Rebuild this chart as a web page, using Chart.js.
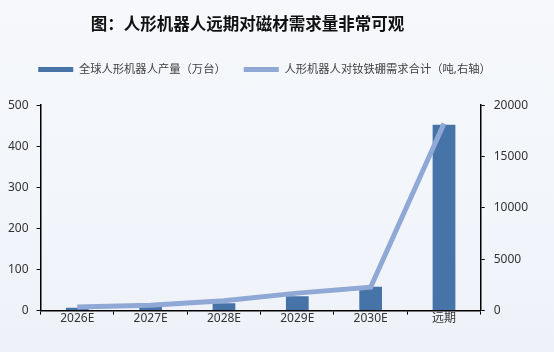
<!DOCTYPE html>
<html>
<head>
<meta charset="utf-8">
<script src="https://cdn.jsdelivr.net/npm/chart.js@4/dist/chart.umd.min.js"></script>
<style>
  html, body { margin: 0; padding: 0; }
  body { width: 554px; height: 352px; background: linear-gradient(180deg, #f6f8fb 0%, #f2f5fa 60%, #eef2f8 100%); }
  #wrap { position: relative; width: 554px; height: 352px; }
</style>
</head>
<body>
<div id="wrap"><canvas id="myChart"></canvas></div>
<script>
// data
const categories = ["2026E", "2027E", "2028E", "2029E", "2030E", "远期"];
const robotOutput = [7, 9, 18, 35, 58, 452];          // 万台, left axis
const ndfebDemand = [340, 520, 950, 1700, 2280, 18200]; // 吨, right axis
const leftTicks = [0, 100, 200, 300, 400, 500];
const rightTicks = [0, 5000, 10000, 15000, 20000];

const FONT = "'Noto Sans', 'Noto Sans CJK SC', sans-serif";
const barColor = "#4674a8";
const lineColor = "#8fa8d5";

// nudge title and legend like in the original layout, and leave room under the legend
const shiftHeader = {
  id: "shiftHeader",
  beforeLayout(chart) {
    const lg = chart.legend;
    if (lg && !lg._extraFit) {
      const fit = lg.fit;
      lg.fit = function () { fit.call(this); this.height += 20; };
      lg._extraFit = true;
    }
  },
  afterLayout(chart) {
    if (chart.titleBlock) { chart.titleBlock.left -= 21; chart.titleBlock.right -= 21; }
    if (chart.legend) { chart.legend.left -= 4; chart.legend.right -= 4; }
  }
};

const ctx = document.getElementById("myChart").getContext("2d");
new Chart(ctx, {
  type: "bar",
  data: {
    labels: categories,
    datasets: [
      {
        type: "line",
        label: "人形机器人对钕铁硼需求合计（吨,右轴）",
        data: ndfebDemand,
        yAxisID: "y1",
        borderColor: lineColor,
        backgroundColor: lineColor,
        borderWidth: 5,
        pointRadius: 0,
        tension: 0,
        order: 0
      },
      {
        label: "全球人形机器人产量（万台）",
        data: robotOutput,
        yAxisID: "y",
        backgroundColor: barColor,
        categoryPercentage: 1,
        barPercentage: 0.31,
        order: 1
      }
    ]
  },
  options: {
    responsive: true,
    maintainAspectRatio: false,
    animation: false,
    layout: { padding: { left: 0, right: 17, top: 15, bottom: 29 } },
    plugins: {
      title: {
        display: true,
        text: "图：人形机器人远期对磁材需求量非常可观",
        color: "#111",
        font: { family: FONT, size: 16.5, weight: "bold" },
        padding: { top: 0, bottom: 11 }
      },
      legend: {
        display: true,
        labels: {
          color: "#404040",
          font: { family: FONT, size: 11.3 },
          boxWidth: 35,
          boxHeight: 5,
          padding: 18,
          generateLabels(chart) {
            // bar first, then line, with flat swatches
            return [1, 0].map(i => {
              const ds = chart.data.datasets[i];
              return {
                text: ds.label,
                fillStyle: i === 1 ? barColor : lineColor,
                strokeStyle: i === 1 ? barColor : lineColor,
                lineWidth: 0,
                datasetIndex: i,
                fontColor: "#404040"
              };
            });
          }
        }
      },
      tooltip: { enabled: false }
    },
    scales: {
      x: {
        grid: { display: true, drawOnChartArea: false, drawTicks: true, tickLength: 4, color: "#000", offset: true },
        border: { display: true, color: "#000", width: 1.5 },
        ticks: { color: "#333", font: { family: FONT, size: 12 }, padding: -3 }
      },
      y: {
        position: "left",
        min: 0,
        max: 500,
        afterBuildTicks(axis) { axis.ticks = leftTicks.map(v => ({ value: v })); },
        grid: { display: true, drawOnChartArea: false, drawTicks: true, tickLength: 4, color: "#000" },
        border: { display: true, color: "#000", width: 1.5 },
        ticks: { color: "#333", font: { family: FONT, size: 12 }, padding: 8 }
      },
      y1: {
        position: "right",
        min: 0,
        max: 20000,
        afterBuildTicks(axis) { axis.ticks = rightTicks.map(v => ({ value: v })); },
        grid: { display: true, drawOnChartArea: false, drawTicks: true, tickLength: 4, color: "#000" },
        border: { display: true, color: "#000", width: 1.5 },
        ticks: { color: "#333", font: { family: FONT, size: 12 }, padding: 9, callback: v => String(v) }
      }
    }
  },
  plugins: [shiftHeader]
});
</script>
</body>
</html>
